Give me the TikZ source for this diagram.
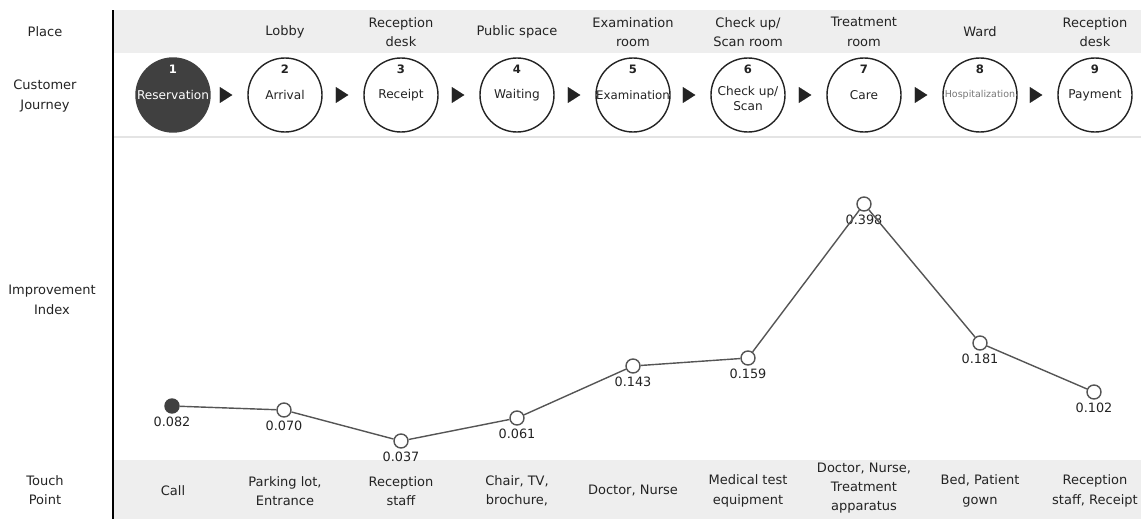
\documentclass[tikz,border=0pt]{standalone}
\usepackage{fontspec}
\setmainfont{DejaVu Sans}
\usepackage{xcolor}
\definecolor{jbgray}{RGB}{238,238,238}
\definecolor{jbrule}{RGB}{228,228,228}
\definecolor{jbdark}{RGB}{64,64,64}
\definecolor{jbtext}{RGB}{35,35,35}
\definecolor{jbline}{RGB}{85,85,85}
\definecolor{jbfaint}{RGB}{120,120,120}
\usetikzlibrary{arrows.meta,positioning}

\begin{document}
\begin{tikzpicture}[
  stage/.style={circle, draw=jbtext, line width=0.8pt, fill=white, minimum size=1.48cm,
                inner sep=0pt, font=\fontsize{6.9}{8.8}\selectfont, align=center, text=jbtext},
  stagedone/.style={stage, fill=jbdark, draw=jbdark, text=white},
  num/.style={font=\fontsize{6.6}{8}\selectfont\bfseries, text=jbtext},
  rowlbl/.style={font=\fontsize{7.4}{11}\selectfont, align=center, text=jbtext},
  pt/.style={circle, draw=jbline, thick, fill=white, minimum size=0.28cm, inner sep=0pt},
  ptdone/.style={pt, fill=jbdark, draw=jbdark},
  val/.style={font=\fontsize{7.3}{9}\selectfont, text=jbtext, inner sep=1.5pt},
  flow/.style={-{Triangle[length=0.25cm,width=0.32cm]}, draw=jbtext, line width=0.01pt,
               shorten <=0.27cm, shorten >=0.30cm},
  trend/.style={draw=jbline, thick}
]
\useasboundingbox (0,0) rectangle (22.82,10.38);

% bands and frame
\fill[jbgray] (2.26,9.32) rectangle (22.82,10.18);
\fill[jbgray] (2.26,0) rectangle (22.82,1.18);
\draw[jbrule, line width=1.2pt] (2.26,7.64) -- (22.82,7.64);
\draw[black, line width=1.4pt] (2.26,10.18) -- (2.26,0);

% row titles
\node[rowlbl] (tplace)   at (0.90,9.74) {Place};
\node[rowlbl] (tjourney) at (0.90,8.46) {Customer\\Journey};
\node[rowlbl] (tindex)   at (1.04,4.38) {Improvement\\Index};
\node[rowlbl] (ttouch)   at (0.90,0.58) {Touch\\Point};

% places
\node[rowlbl] (pl2) at (5.70,9.74)  {Lobby};
\node[rowlbl] (pl3) at (8.02,9.74)  {Reception\\desk};
\node[rowlbl] (pl4) at (10.34,9.74) {Public space};
\node[rowlbl] (pl5) at (12.66,9.74) {Examination\\room};
\node[rowlbl] (pl6) at (14.96,9.74) {Check up/\\Scan room};
\node[rowlbl] (pl7) at (17.28,9.74) {Treatment\\room};
\node[rowlbl] (pl8) at (19.60,9.74) {Ward};
\node[rowlbl] (pl9) at (21.90,9.74) {Reception\\desk};

% customer journey
\node[stagedone] (c1) at (3.46,8.48)  {Reservation};
\node[stage]     (c2) at (5.70,8.48)  {Arrival};
\node[stage]     (c3) at (8.02,8.48)  {Receipt};
\node[stage]     (c4) at (10.34,8.48) {Waiting};
\node[stage, font=\fontsize{6.7}{8.8}\selectfont] (c5) at (12.66,8.48) {Examination};
\node[stage]     (c6) at (14.96,8.48) {\strut\\[-1.6ex]Check up/\\Scan};
\node[stage]     (c7) at (17.28,8.48) {Care};
\node[stage, font=\fontsize{5.4}{6}\selectfont, text=jbfaint] (c8) at (19.60,8.48) {Hospitalization};
\node[stage]     (c9) at (21.90,8.48) {Payment};

\node[num, text=white] (n1) at ([yshift=-0.24cm]c1.north) {1};
\node[num] (n2) at ([yshift=-0.24cm]c2.north) {2};
\node[num] (n3) at ([yshift=-0.24cm]c3.north) {3};
\node[num] (n4) at ([yshift=-0.24cm]c4.north) {4};
\node[num] (n5) at ([yshift=-0.24cm]c5.north) {5};
\node[num] (n6) at ([yshift=-0.24cm]c6.north) {6};
\node[num] (n7) at ([yshift=-0.24cm]c7.north) {7};
\node[num] (n8) at ([yshift=-0.24cm]c8.north) {8};
\node[num] (n9) at ([yshift=-0.24cm]c9.north) {9};

\draw[flow] (c1) -- (c2);
\draw[flow] (c2) -- (c3);
\draw[flow] (c3) -- (c4);
\draw[flow] (c4) -- (c5);
\draw[flow] (c5) -- (c6);
\draw[flow] (c6) -- (c7);
\draw[flow] (c7) -- (c8);
\draw[flow] (c8) -- (c9);

% improvement index
\node[ptdone, label={[val]below:0.082}] (p1) at (3.44,2.26) {};
\node[pt, label={[val]below:0.070}] (p2) at (5.68,2.18) {};
\node[pt, label={[val]below:0.037}] (p3) at (8.02,1.56) {};
\node[pt, label={[val]below:0.061}] (p4) at (10.34,2.02) {};
\node[pt, label={[val]below:0.143}] (p5) at (12.66,3.06) {};
\node[pt, label={[val]below:0.159}] (p6) at (14.96,3.22) {};
\node[pt, label={[val]below:0.398}] (p7) at (17.28,6.30) {};
\node[pt, label={[val]below:0.181}] (p8) at (19.60,3.52) {};
\node[pt, label={[val]below:0.102}] (p9) at (21.88,2.54) {};

\draw[trend] (p1) -- (p2) -- (p3) -- (p4) -- (p5) -- (p6) -- (p7) -- (p8) -- (p9);

% touch points
\node[rowlbl] (tp1) at (3.46,0.56)  {Call};
\node[rowlbl] (tp2) at (5.70,0.56)  {Parking lot,\\Entrance};
\node[rowlbl] (tp3) at (8.02,0.56)  {Reception\\staff};
\node[rowlbl] (tp4) at (10.34,0.56) {Chair, TV,\\brochure,};
\node[rowlbl] (tp5) at (12.66,0.56) {Doctor, Nurse};
\node[rowlbl] (tp6) at (14.96,0.56) {Medical test\\equipment};
\node[rowlbl] (tp7) at (17.28,0.62) {Doctor, Nurse,\\Treatment\\apparatus};
\node[rowlbl] (tp8) at (19.60,0.56) {Bed, Patient\\gown};
\node[rowlbl] (tp9) at (21.90,0.56) {Reception\\staff, Receipt};
\end{tikzpicture}
\end{document}
